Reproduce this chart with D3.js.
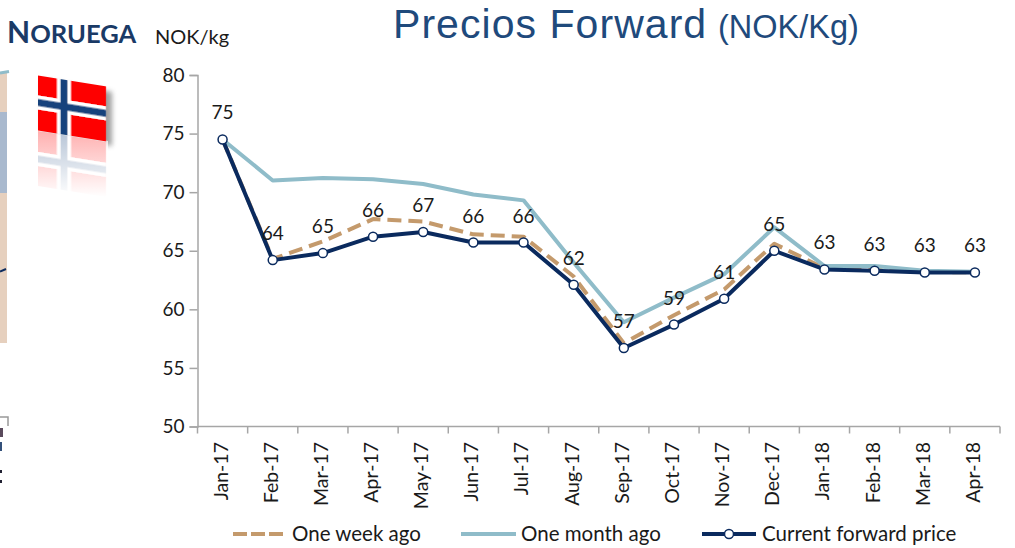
<!DOCTYPE html>
<html><head><meta charset="utf-8">
<script src="https://cdn.jsdelivr.net/npm/d3@7"></script>
<style>html,body{margin:0;padding:0;background:#fff}svg{display:block}text{font-family:Lato,sans-serif}</style>
</head><body><svg id="c" width="1015" height="548"></svg>
<script>
const categories=["Jan-17","Feb-17","Mar-17","Apr-17","May-17","Jun-17","Jul-17","Aug-17","Sep-17","Oct-17","Nov-17","Dec-17","Jan-18","Feb-18","Mar-18","Apr-18"];
const oneWeekAgo=[74.5,64.3,65.8,67.7,67.5,66.4,66.2,62.8,57.1,59.5,61.7,65.6,63.5,63.4,63.2,63.15];
const oneMonthAgo=[74.5,71,71.2,71.1,70.7,69.8,69.3,64,58.9,61,63,67,63.7,63.7,63.3,63.2];
const currentForward=[74.5,64.2,64.8,66.2,66.6,65.7,65.7,62.1,56.7,58.7,60.9,65,63.4,63.3,63.15,63.15];
const dataLabels=[75,64,65,66,67,66,66,62,57,59,61,65,63,63,63,63];
const yTicks=[50,55,60,65,70,75,80];
const svg=d3.select("#c");
const x=d3.scaleBand().domain(categories).range([197.5,1000]);
const y=d3.scaleLinear().domain([50,80]).range([426.5,75]);
const cx=c=>x(c)+x.bandwidth()/2;
const line=d3.line().x((d,i)=>cx(categories[i])).y(d=>y(d));
const axisC="#a6a6a6",textC="#1a1a1a";

// left neighbouring-panel fragments
svg.append("rect").attr("x",0).attr("y",73).attr("width",7).attr("height",270).attr("fill","#e6d0be");
svg.append("rect").attr("x",0).attr("y",112).attr("width",7).attr("height",81).attr("fill","#a9b9ce");
svg.append("line").attr("x1",0).attr("x2",9).attr("y1",73).attr("y2",71.5).attr("stroke","#8fbcc9").attr("stroke-width",3);
svg.append("line").attr("x1",0).attr("x2",6).attr("y1",271.5).attr("y2",269).attr("stroke","#0d2c5e").attr("stroke-width",2);
svg.append("path").attr("d","M0,417H8V426").attr("fill","none").attr("stroke","#999").attr("stroke-width",1.5);
svg.append("rect").attr("x",0).attr("y",428).attr("width",3).attr("height",9).attr("fill","#5a4a5c");
svg.append("rect").attr("x",0).attr("y",442).attr("width",2).attr("height",9).attr("fill","#33507a");
svg.append("rect").attr("x",0).attr("y",470).attr("width",2).attr("height",3).attr("fill","#223");
svg.append("rect").attr("x",0).attr("y",480).attr("width",2).attr("height",3).attr("fill","#223");

// flag
const defs=svg.append("defs");
const fade=defs.append("linearGradient").attr("id","fade").attr("x1",0).attr("y1",0).attr("x2",0).attr("y2",1);
fade.append("stop").attr("offset",0).attr("stop-color","#fff").attr("stop-opacity",.68);
fade.append("stop").attr("offset",1).attr("stop-color","#fff").attr("stop-opacity",1);
defs.append("filter").attr("id","blur").attr("x","-20%").attr("y","-20%").attr("width","140%").attr("height","140%")
  .append("feGaussianBlur").attr("stdDeviation",2.5);
defs.append("filter").attr("id","soft").append("feGaussianBlur").attr("stdDeviation",0.5);
function flag(g){
  g.append("rect").attr("width",68).attr("height",55).attr("fill","#fe0000");
  g.append("rect").attr("x",19).attr("width",14).attr("height",55).attr("fill","#fff");
  g.append("rect").attr("y",20).attr("width",68).attr("height",14).attr("fill","#fff");
  g.append("rect").attr("x",22.5).attr("width",7).attr("height",55).attr("fill","#17437c");
  g.append("rect").attr("y",23.5).attr("width",68).attr("height",7).attr("fill","#17437c");
}
svg.append("path").attr("d","M42,80L112,92V146L42,135Z").attr("fill","#555").attr("opacity",.55).attr("filter","url(#blur)");
const rg=svg.append("g").attr("transform","matrix(1,0.16,0,-1,38,186)").attr("filter","url(#soft)");
flag(rg);
svg.append("path").attr("d","M36,129L108,141V197H36Z").attr("fill","url(#fade)");
flag(svg.append("g").attr("transform","matrix(1,0.16,0,1,38,75.5)").attr("filter","url(#soft)"));

// titles
svg.append("text").attr("x",7).attr("y",43).attr("fill","#1a3a66").attr("font-weight",700).attr("font-size",30)
  .text("N").append("tspan").attr("font-size",25.5).text("ORUEGA");
svg.append("text").attr("x",155).attr("y",44).attr("fill",textC).attr("font-size",20).text("NOK/kg");
const t=svg.append("text").attr("x",393).attr("y",38).attr("fill","#1f4a7c").attr("font-size",41).style("font-family","'Liberation Sans'");
t.append("tspan").attr("letter-spacing",1.05).text("Precios Forward");
t.append("tspan").attr("x",718).attr("font-size",32.5).text("(NOK/Kg)");

// axes
const yAxis=svg.append("g").attr("transform","translate(197.5,0)").call(d3.axisLeft(y).tickValues(yTicks).tickSize(8).tickPadding(5));
const xAxis=svg.append("g").attr("transform","translate(0,426.5)").call(d3.axisBottom(x).tickSize(0).tickPadding(10));
yAxis.selectAll("path,line").attr("stroke",axisC).attr("stroke-width",1.5);
yAxis.selectAll("text").attr("fill",textC).attr("font-size",19).attr("font-family","Lato");
xAxis.select("path").attr("stroke",axisC).attr("stroke-width",1.5).attr("d","M197.5,0H1000");
xAxis.selectAll(".tick line").remove();
xAxis.selectAll(".edge").data(d3.range(categories.length+1)).enter().append("line").attr("class","edge")
  .attr("x1",i=>x.range()[0]+i*x.step()).attr("x2",i=>x.range()[0]+i*x.step()).attr("y1",0).attr("y2",7)
  .attr("stroke",axisC).attr("stroke-width",1.5);
xAxis.selectAll(".tick text").attr("fill",textC).attr("font-size",19.5).attr("font-family","Lato")
  .attr("text-anchor","end").attr("dominant-baseline","middle").attr("dy",0)
  .attr("transform","translate(0,15.5) rotate(-90)").attr("x",0).attr("y",0);

// series
const path=(v,c,w,dash)=>svg.append("path").datum(v).attr("d",line).attr("fill","none").attr("stroke",c).attr("stroke-width",w).attr("stroke-dasharray",dash||null).attr("stroke-linejoin","round");
path(oneWeekAgo,"#c49a6c",4,"14 7");
path(oneMonthAgo,"#8fbcc9",4);
path(currentForward,"#0a2a5e",4);
svg.selectAll(".pt").data(currentForward).enter().append("circle").attr("class","pt")
  .attr("cx",(d,i)=>cx(categories[i])).attr("cy",d=>y(d)).attr("r",4.5).attr("fill","#fff").attr("stroke","#0a2a5e").attr("stroke-width",1.5);
svg.selectAll(".lab").data(dataLabels).enter().append("text").attr("class","lab")
  .attr("x",(d,i)=>cx(categories[i])).attr("y",(d,i)=>y(currentForward[i])-20).attr("text-anchor","middle")
  .attr("fill",textC).attr("font-size",19).text(d=>d);

// legend
const ly=534;
const lg=svg.append("g");
lg.append("line").attr("x1",233).attr("x2",283).attr("y1",ly).attr("y2",ly).attr("stroke","#c49a6c").attr("stroke-width",4).attr("stroke-dasharray","14 4");
lg.append("text").attr("x",292).attr("y",ly+7).attr("fill",textC).attr("font-size",20.5).text("One week ago");
lg.append("line").attr("x1",461).attr("x2",516).attr("y1",ly).attr("y2",ly).attr("stroke","#8fbcc9").attr("stroke-width",4);
lg.append("text").attr("x",521).attr("y",ly+7).attr("fill",textC).attr("font-size",20.5).text("One month ago");
lg.append("line").attr("x1",702).attr("x2",756).attr("y1",ly).attr("y2",ly).attr("stroke","#0a2a5e").attr("stroke-width",4);
lg.append("circle").attr("cx",729).attr("cy",ly).attr("r",4.5).attr("fill","#fff").attr("stroke","#0a2a5e").attr("stroke-width",1.5);
lg.append("text").attr("x",762).attr("y",ly+7).attr("fill",textC).attr("font-size",20.5).text("Current forward price");
</script></body></html>
